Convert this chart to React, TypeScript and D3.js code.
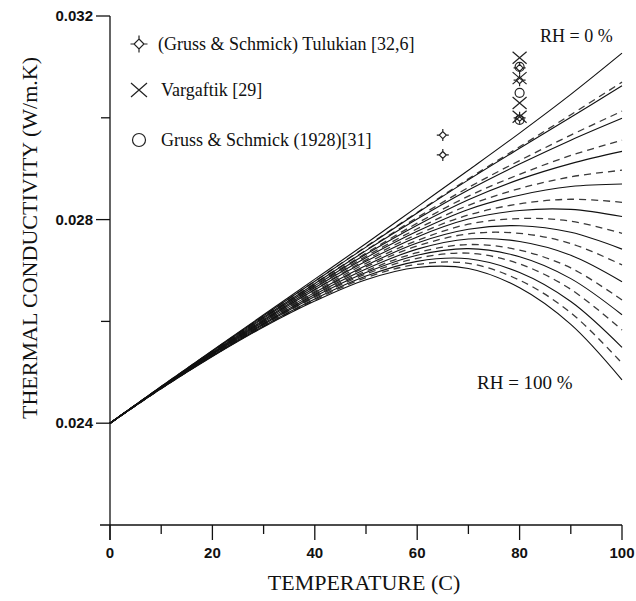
import React from 'react';
import * as d3 from 'd3';

// ---- data ----
const temperatures = [0, 10, 20, 30, 40, 50, 60, 70, 80, 90, 100];

// solid curves, RH = 0 % ... 100 %
const solidRH0 = [0.024, 0.02472, 0.02543, 0.02613, 0.02683, 0.02753, 0.02825, 0.02897, 0.0297, 0.03046, 0.03127];
const solidRH10 = [0.024, 0.02472, 0.02542, 0.02611, 0.02679, 0.02746, 0.02813, 0.02878, 0.0294, 0.03001, 0.03063];
const solidRH20 = [0.024, 0.02471, 0.02541, 0.02608, 0.02674, 0.02739, 0.02801, 0.02858, 0.02909, 0.02956, 0.02999];
const solidRH30 = [0.024, 0.02471, 0.02539, 0.02606, 0.0267, 0.02732, 0.02789, 0.02839, 0.02879, 0.0291, 0.02934];
const solidRH40 = [0.024, 0.0247, 0.02538, 0.02603, 0.02666, 0.02725, 0.02777, 0.0282, 0.02848, 0.02865, 0.0287];
const solidRH50 = [0.024, 0.0247, 0.02537, 0.02601, 0.02662, 0.02718, 0.02766, 0.02801, 0.02818, 0.0282, 0.02806];
const solidRH60 = [0.024, 0.0247, 0.02536, 0.02599, 0.02657, 0.0271, 0.02754, 0.02781, 0.02788, 0.02775, 0.02742];
const solidRH70 = [0.024, 0.02469, 0.02535, 0.02596, 0.02653, 0.02703, 0.02742, 0.02762, 0.02757, 0.0273, 0.02678];
const solidRH80 = [0.024, 0.02469, 0.02533, 0.02594, 0.02649, 0.02696, 0.0273, 0.02743, 0.02727, 0.02684, 0.02613];
const solidRH90 = [0.024, 0.02468, 0.02532, 0.02591, 0.02644, 0.02689, 0.02718, 0.02723, 0.02696, 0.02639, 0.02549];
const solidRH100 = [0.024, 0.02468, 0.02531, 0.02589, 0.0264, 0.02682, 0.02706, 0.02704, 0.02666, 0.02594, 0.02485];

// dashed curves, RH = 10 % ... 100 %
const dashedRH10 = [0.024, 0.02472, 0.02542, 0.02611, 0.02679, 0.02747, 0.02814, 0.0288, 0.02943, 0.03006, 0.0307];
const dashedRH20 = [0.024, 0.02471, 0.02541, 0.02609, 0.02675, 0.0274, 0.02804, 0.02863, 0.02916, 0.02966, 0.03013];
const dashedRH30 = [0.024, 0.02471, 0.0254, 0.02607, 0.02672, 0.02734, 0.02793, 0.02846, 0.02889, 0.02926, 0.02956];
const dashedRH40 = [0.024, 0.02471, 0.02539, 0.02604, 0.02668, 0.02728, 0.02782, 0.02828, 0.02861, 0.02884, 0.02897];
const dashedRH50 = [0.024, 0.0247, 0.02538, 0.02602, 0.02663, 0.02721, 0.02771, 0.02809, 0.02831, 0.0284, 0.02834];
const dashedRH60 = [0.024, 0.0247, 0.02536, 0.026, 0.02659, 0.02714, 0.02759, 0.02791, 0.02802, 0.02797, 0.02773];
const dashedRH70 = [0.024, 0.02469, 0.02535, 0.02597, 0.02655, 0.02707, 0.02748, 0.02772, 0.02773, 0.02753, 0.02711];
const dashedRH80 = [0.024, 0.02469, 0.02534, 0.02595, 0.02651, 0.02699, 0.02735, 0.02751, 0.0274, 0.02705, 0.02642];
const dashedRH90 = [0.024, 0.02469, 0.02533, 0.02593, 0.02647, 0.02693, 0.02724, 0.02734, 0.02713, 0.02663, 0.02583];
const dashedRH100 = [0.024, 0.02468, 0.02532, 0.0259, 0.02642, 0.02686, 0.02712, 0.02714, 0.02681, 0.02617, 0.02518];

const solidCurves = [solidRH0, solidRH10, solidRH20, solidRH30, solidRH40, solidRH50, solidRH60, solidRH70, solidRH80, solidRH90, solidRH100];
const dashedCurves = [dashedRH10, dashedRH20, dashedRH30, dashedRH40, dashedRH50, dashedRH60, dashedRH70, dashedRH80, dashedRH90, dashedRH100];

// measured points
const tulukianT = [65, 65, 80, 80, 80];
const tulukianK = [0.02966, 0.02927, 0.03098, 0.03074, 0.03];
const vargaftikT = [80, 80, 80, 80];
const vargaftikK = [0.03118, 0.03078, 0.03029, 0.03002];
const grussT = [80, 80, 80];
const grussK = [0.031, 0.03049, 0.02996];

const legendLabels = ['(Gruss & Schmick) Tulukian [32,6]', 'Vargaftik [29]', 'Gruss & Schmick (1928)[31]'];

const xMajorTicks = [0, 20, 40, 60, 80, 100];
const xMinorTicks = [10, 30, 50, 70, 90];
const yMajorTicks = [0.024, 0.028, 0.032];
const yMinorTicks = [0.026, 0.03];

const SERIF = '"Liberation Serif", "Times New Roman", Times, serif';
const SANS = '"Liberation Sans", Arial, Helvetica, sans-serif';

function diamondPath(cx: number, cy: number, r: number, t: number) {
  return `M${cx},${cy - r}L${cx + r},${cy}L${cx},${cy + r}L${cx - r},${cy}Z` +
    `M${cx},${cy - r}L${cx},${cy - r - t}M${cx + r},${cy}L${cx + r + t},${cy}` +
    `M${cx},${cy + r}L${cx},${cy + r + t}M${cx - r},${cy}L${cx - r - t},${cy}`;
}
function crossPath(cx: number, cy: number, w: number, h: number) {
  return `M${cx - w},${cy - h}L${cx + w},${cy + h}M${cx + w},${cy - h}L${cx - w},${cy + h}`;
}

export default function App() {
  const x = d3.scaleLinear().domain([0, 100]).range([110, 622]);
  const y = d3.scaleLinear().domain([0.022, 0.032]).range([525, 16]);
  const line = d3
    .line<number>()
    .x((_, i) => x(temperatures[i]))
    .y((d) => y(d))
    .curve(d3.curveCatmullRom.alpha(0.5));

  return (
    <svg width={636} height={601} style={{ position: 'absolute', left: 0, top: 0, background: '#fff' }}>
      <rect width={636} height={601} fill="#fff" />
      {/* curves */}
      <g fill="none">
        {dashedCurves.map((c, i) => (
          <path key={'d' + i} d={line(c) || ''} stroke="#3a3a3a" strokeWidth={1.3} strokeDasharray="7,5" />
        ))}
        {solidCurves.map((c, i) => (
          <path key={'s' + i} d={line(c) || ''} stroke="#111" strokeWidth={1.1} />
        ))}
      </g>

      {/* axes */}
      <g stroke="#111" strokeWidth={1.3} fill="none">
        <line x1={x(0)} x2={x(0)} y1={y(0.032)} y2={y(0.022) + 15} />
        <line x1={x(0) - 10} x2={x(100)} y1={y(0.022)} y2={y(0.022)} />
        {xMajorTicks.map((t) => (
          <line key={'xt' + t} x1={x(t)} x2={x(t)} y1={y(0.022)} y2={y(0.022) + 15} />
        ))}
        {xMinorTicks.map((t) => (
          <line key={'xm' + t} x1={x(t)} x2={x(t)} y1={y(0.022)} y2={y(0.022) + 9} />
        ))}
        {yMajorTicks.map((t) => (
          <line key={'yt' + t} x1={x(0) - 14} x2={x(0)} y1={y(t)} y2={y(t)} />
        ))}
        {yMinorTicks.map((t) => (
          <line key={'ym' + t} x1={x(0) - 9} x2={x(0)} y1={y(t)} y2={y(t)} />
        ))}
      </g>
      <g fontFamily={SANS} fontWeight="bold" fontSize={15} fill="#111">
        {xMajorTicks.map((t) => (
          <text key={'xl' + t} x={x(t)} y={y(0.022) + 33} textAnchor="middle">{t}</text>
        ))}
        {yMajorTicks.map((t) => (
          <text key={'yl' + t} x={x(0) - 17} y={y(t)} dy="0.35em" textAnchor="end">{d3.format('.3f')(t)}</text>
        ))}
      </g>
      <text x={x(50) - 2} y={590} textAnchor="middle" fontFamily={SERIF} fontSize={22} fill="#111">TEMPERATURE (C)</text>
      <text transform={`translate(37,238) rotate(-90)`} textAnchor="middle" fontFamily={SERIF} fontSize={22} fill="#111">THERMAL CONDUCTIVITY (W/m.K)</text>

      {/* annotations */}
      <text x={540} y={42} fontFamily={SERIF} fontSize={18} fill="#111">RH = 0 %</text>
      <text x={477} y={389} fontFamily={SERIF} fontSize={19} fill="#111">RH = 100 %</text>

      {/* data markers */}
      <g fill="none" stroke="#222" strokeWidth={1.2}>
        {vargaftikT.map((t, i) => (
          <path key={'v' + i} d={crossPath(x(t), y(vargaftikK[i]), 7, 6)} />
        ))}
        {grussT.map((t, i) => (
          <circle key={'g' + i} cx={x(t)} cy={y(grussK[i])} r={4.5} />
        ))}
        {tulukianT.map((t, i) => (
          <path key={'t' + i} d={diamondPath(x(t), y(tulukianK[i]), 3.5, 2.5)} />
        ))}
      </g>

      {/* legend */}
      <g fill="none" stroke="#222" strokeWidth={1.2}>
        <path d={diamondPath(139, 44, 5, 3.5)} />
        <path d={crossPath(139, 90, 8, 7)} />
        <circle cx={139} cy={140} r={6.5} />
      </g>
      <g fontFamily={SERIF} fontSize={18} fill="#111">
        <text x={158} y={44} dy="0.35em">{legendLabels[0]}</text>
        <text x={161} y={90} dy="0.35em">{legendLabels[1]}</text>
        <text x={161} y={140} dy="0.35em">{legendLabels[2]}</text>
      </g>
    </svg>
  );
}
